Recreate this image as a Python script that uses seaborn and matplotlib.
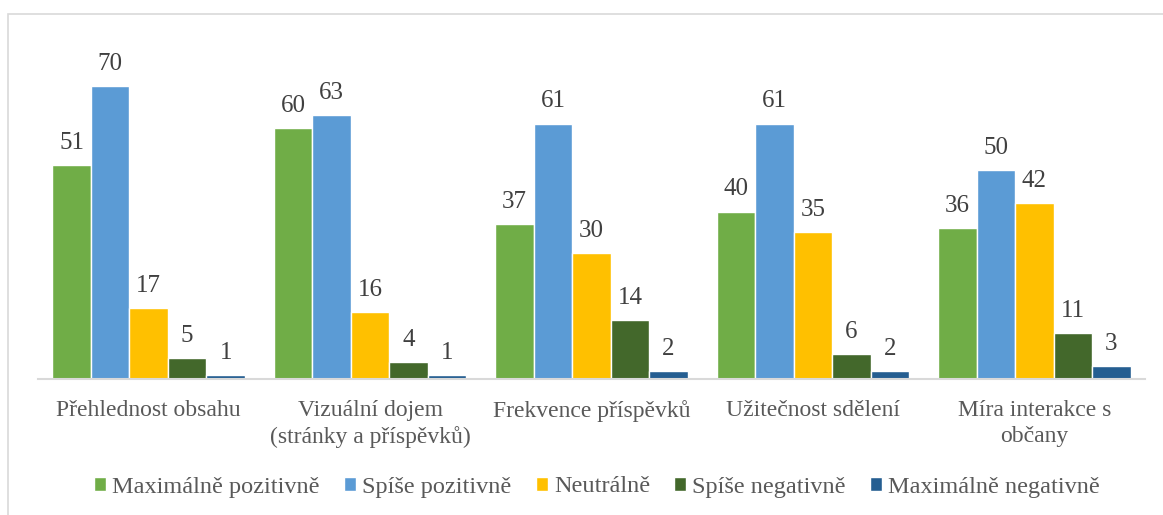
import matplotlib
matplotlib.use("Agg")
import matplotlib.pyplot as plt
import seaborn as sns
import pandas as pd
from matplotlib.patches import Rectangle

# data
categories = ["Přehlednost obsahu", "Vizuální dojem\n(stránky a příspěvků)",
              "Frekvence příspěvků", "Užitečnost sdělení", "Míra interakce s\nobčany"]
series = ["Maximálně pozitivně", "Spíše pozitivně", "Neutrálně",
          "Spíše negativně", "Maximálně negativně"]
max_pozitivne = [51, 60, 37, 40, 36]
spise_pozitivne = [70, 63, 61, 61, 50]
neutralne = [17, 16, 30, 35, 42]
spise_negativne = [5, 4, 14, 6, 11]
max_negativne = [1, 1, 2, 2, 3]

colors = ["#70AD47", "#5B9BD5", "#FFC000", "#43682B", "#255E91"]

values = [max_pozitivne, spise_pozitivne, neutralne, spise_negativne, max_negativne]
rows = []
for s, vals in zip(series, values):
    for c, v in zip(categories, vals):
        rows.append({"kategorie": c, "hodnoceni": s, "pocet": v})
df = pd.DataFrame(rows)

sns.set_theme(style="white")
plt.rcParams['font.family'] = ['Liberation Serif', 'DejaVu Serif']

fig = plt.figure(figsize=(11.63, 5.15), dpi=100)
# light frame around the chart
fig.patches.append(Rectangle((8 / 1163, -0.1), 1.2, (515 - 14) / 515 + 0.1,
                             transform=fig.transFigure, fill=False,
                             edgecolor="#D9D9D9", linewidth=1.2))
ax = fig.add_axes([38 / 1163, 1 - 379 / 515, 1107 / 1163, (379 - 44) / 515])

sns.barplot(data=df, x="kategorie", y="pocet", hue="hodnoceni", order=categories,
            hue_order=series, palette=colors, width=0.87, gap=0, saturation=1,
            ax=ax, legend=True)

for cont in ax.containers:
    ax.bar_label(cont, padding=8, fontsize=18, color="#404040")

ax.set_ylim(0, 80)
ax.set_xlabel("")
ax.set_ylabel("")
ax.set_yticks([])
for side in ["left", "right", "top"]:
    ax.spines[side].set_visible(False)
ax.spines["bottom"].set_color("#D9D9D9")
ax.spines["bottom"].set_linewidth(1.5)
ax.tick_params(axis="x", length=0, pad=15, labelsize=17, labelcolor="#595959")
for lab in ax.get_xticklabels():
    lab.set_linespacing(1.3)

leg = ax.legend(loc="center", bbox_to_anchor=(597 / 1163, 1 - 487 / 515), bbox_transform=fig.transFigure,
                ncol=5, frameon=False, fontsize=17.5, handlelength=0.5, handleheight=0.5,
                handletextpad=0.25, columnspacing=1.0)
for t in leg.get_texts():
    t.set_color("#595959")

fig.savefig("out.png", dpi=100)
